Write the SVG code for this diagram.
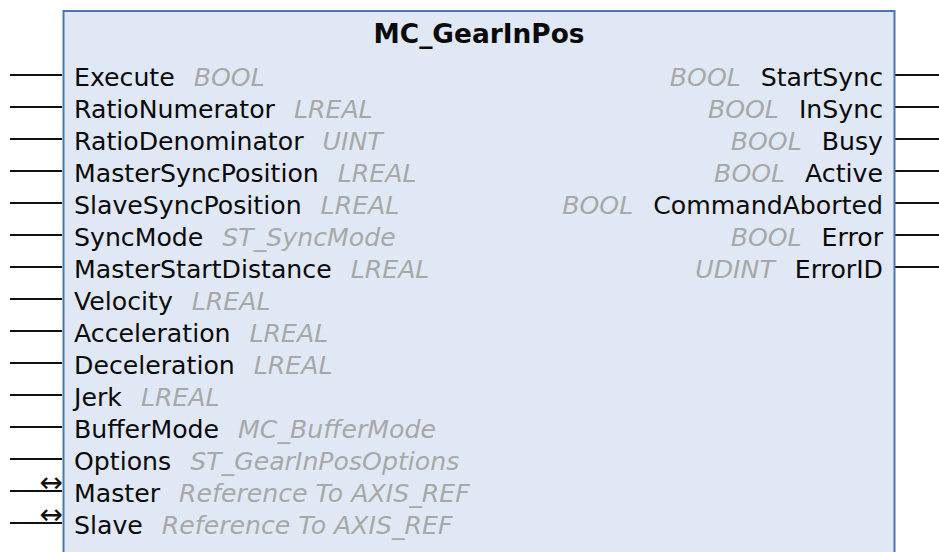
<svg xmlns="http://www.w3.org/2000/svg" width="939" height="552" viewBox="0 0 939 552">
<style>
.t{font-family:"DejaVu Sans","Verdana",sans-serif;font-size:25.2px;fill:#0a0a0a}
.ty{font-style:italic;fill:#a8a8a8}
.ttl{font-family:"DejaVu Sans","Verdana",sans-serif;font-size:26.4px;font-weight:bold;fill:#0a0a0a}
.pin{stroke:#111;stroke-width:1.8;fill:none}
.arr{font-family:"DejaVu Sans",sans-serif;font-size:28px;fill:#111}
</style>
<rect width="939" height="552" fill="#ffffff"/>
<g id="connectors">
<line class="pin" x1="10" y1="75" x2="62" y2="75"/>
<line class="pin" x1="10" y1="107" x2="62" y2="107"/>
<line class="pin" x1="10" y1="139" x2="62" y2="139"/>
<line class="pin" x1="10" y1="171" x2="62" y2="171"/>
<line class="pin" x1="10" y1="203" x2="62" y2="203"/>
<line class="pin" x1="10" y1="235" x2="62" y2="235"/>
<line class="pin" x1="10" y1="267" x2="62" y2="267"/>
<line class="pin" x1="10" y1="299" x2="62" y2="299"/>
<line class="pin" x1="10" y1="331" x2="62" y2="331"/>
<line class="pin" x1="10" y1="363" x2="62" y2="363"/>
<line class="pin" x1="10" y1="395" x2="62" y2="395"/>
<line class="pin" x1="10" y1="427" x2="62" y2="427"/>
<line class="pin" x1="10" y1="459" x2="62" y2="459"/>
<line class="pin" x1="10" y1="491" x2="62" y2="491"/>
<line class="pin" x1="10" y1="523" x2="62" y2="523"/>
<text class="arr" x="63" y="492" text-anchor="end">↔</text>
<text class="arr" x="63" y="524" text-anchor="end">↔</text>
<line class="pin" x1="895" y1="75" x2="939" y2="75"/>
<line class="pin" x1="895" y1="107" x2="939" y2="107"/>
<line class="pin" x1="895" y1="139" x2="939" y2="139"/>
<line class="pin" x1="895" y1="171" x2="939" y2="171"/>
<line class="pin" x1="895" y1="203" x2="939" y2="203"/>
<line class="pin" x1="895" y1="235" x2="939" y2="235"/>
<line class="pin" x1="895" y1="267" x2="939" y2="267"/>
</g>
<g id="block">
<rect x="63.5" y="11" width="831" height="560" fill="#e1e8f5" stroke="#4a76b0" stroke-width="2"/>
<text class="ttl" x="479" y="43" text-anchor="middle">MC_GearInPos</text>
</g>
<g id="inputs">
<text class="t" x="74" y="86">Execute<tspan class="ty" dx="19">BOOL</tspan></text>
<text class="t" x="74" y="118">RatioNumerator<tspan class="ty" dx="19">LREAL</tspan></text>
<text class="t" x="74" y="150">RatioDenominator<tspan class="ty" dx="19">UINT</tspan></text>
<text class="t" x="74" y="182">MasterSyncPosition<tspan class="ty" dx="19">LREAL</tspan></text>
<text class="t" x="74" y="214">SlaveSyncPosition<tspan class="ty" dx="19">LREAL</tspan></text>
<text class="t" x="74" y="246">SyncMode<tspan class="ty" dx="19">ST_SyncMode</tspan></text>
<text class="t" x="74" y="278">MasterStartDistance<tspan class="ty" dx="19">LREAL</tspan></text>
<text class="t" x="74" y="310">Velocity<tspan class="ty" dx="19">LREAL</tspan></text>
<text class="t" x="74" y="342">Acceleration<tspan class="ty" dx="19">LREAL</tspan></text>
<text class="t" x="74" y="374">Deceleration<tspan class="ty" dx="19">LREAL</tspan></text>
<text class="t" x="74" y="406">Jerk<tspan class="ty" dx="19">LREAL</tspan></text>
<text class="t" x="74" y="438">BufferMode<tspan class="ty" dx="19">MC_BufferMode</tspan></text>
<text class="t" x="74" y="470">Options<tspan class="ty" dx="19">ST_GearInPosOptions</tspan></text>
<text class="t" x="74" y="502">Master<tspan class="ty" dx="19">Reference To AXIS_REF</tspan></text>
<text class="t" x="74" y="534">Slave<tspan class="ty" dx="19">Reference To AXIS_REF</tspan></text>
</g>
<g id="outputs">
<text class="t" x="883" y="86" text-anchor="end"><tspan class="ty">BOOL</tspan><tspan dx="20">StartSync</tspan></text>
<text class="t" x="883" y="118" text-anchor="end"><tspan class="ty">BOOL</tspan><tspan dx="20">InSync</tspan></text>
<text class="t" x="883" y="150" text-anchor="end"><tspan class="ty">BOOL</tspan><tspan dx="20">Busy</tspan></text>
<text class="t" x="883" y="182" text-anchor="end"><tspan class="ty">BOOL</tspan><tspan dx="20">Active</tspan></text>
<text class="t" x="883" y="214" text-anchor="end"><tspan class="ty">BOOL</tspan><tspan dx="20">CommandAborted</tspan></text>
<text class="t" x="883" y="246" text-anchor="end"><tspan class="ty">BOOL</tspan><tspan dx="20">Error</tspan></text>
<text class="t" x="883" y="278" text-anchor="end"><tspan class="ty">UDINT</tspan><tspan dx="20">ErrorID</tspan></text>
</g>
</svg>
